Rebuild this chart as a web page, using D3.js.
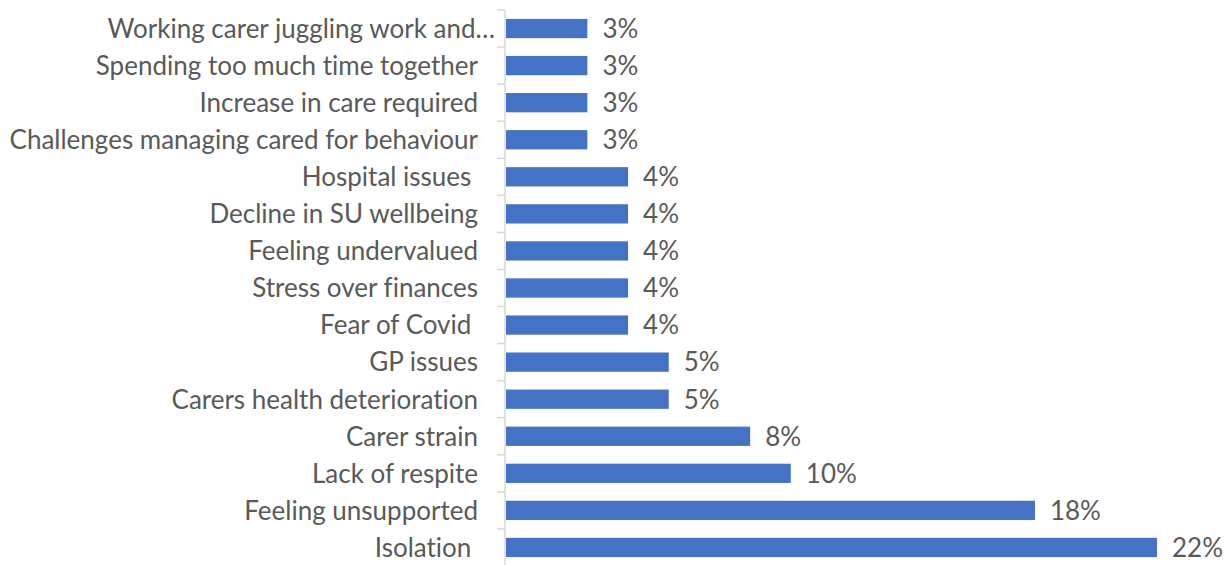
<!DOCTYPE html>
<html>
<head>
<meta charset="utf-8">
<script src="https://cdn.jsdelivr.net/npm/d3@7"></script>
<style>
  body { margin: 0; background: #fff; }
  text { font-family: Lato, "Open Sans", sans-serif; fill: #595959; white-space: pre; font-variant-ligatures: none; }
</style>
</head>
<body>
<div id="chart"></div>
<script>
// categories top to bottom, as in the chart
const categories = [
  "Working carer juggling work and…",
  "Spending too much time together",
  "Increase in care required",
  "Challenges managing cared for behaviour",
  "Hospital issues ",
  "Decline in SU wellbeing",
  "Feeling undervalued",
  "Stress over finances",
  "Fear of Covid ",
  "GP issues",
  "Carers health deterioration",
  "Carer strain",
  "Lack of respite",
  "Feeling unsupported",
  "Isolation "
];
// share of responses (%)
const values = [2.74, 2.74, 2.74, 2.74, 4.11, 4.11, 4.11, 4.11, 4.11, 5.48, 5.48, 8.22, 9.59, 17.81, 21.92];

const W = 1231, H = 565;
const axisX = 505;

const data = categories.map((c, i) => ({ name: c, value: values[i] }));

const svg = d3.select("#chart").append("svg")
  .attr("width", W)
  .attr("height", H);

const x = d3.scaleLinear().domain([0, 24]).range([axisX, axisX + 24 * 29.7]);
const y = d3.scaleBand().domain(categories).range([10, 566]).paddingInner(0.48).paddingOuter(0.24);

// bars
svg.selectAll("rect.bar")
  .data(data)
  .enter().append("rect")
  .attr("class", "bar")
  .attr("x", x(0) + 1)
  .attr("y", d => y(d.name))
  .attr("width", d => x(d.value) - x(0))
  .attr("height", y.bandwidth())
  .attr("fill", "#4472C4");

// category axis: line + ticks at band boundaries
const step = y.step();
const bounds = d3.range(categories.length + 1).map(i => y.range()[0] + i * step);
svg.append("line")
  .attr("x1", axisX).attr("x2", axisX)
  .attr("y1", y.range()[0]).attr("y2", y.range()[1])
  .attr("stroke", "#D9D9D9").attr("stroke-width", 1.5);
svg.selectAll("line.tick")
  .data(bounds)
  .enter().append("line")
  .attr("class", "tick")
  .attr("x1", axisX - 8).attr("x2", axisX)
  .attr("y1", d => d).attr("y2", d => d)
  .attr("stroke", "#D9D9D9").attr("stroke-width", 1.5);

// category labels (the truncated first one overhangs a bit, like Excel does)
svg.selectAll("text.cat")
  .data(data)
  .enter().append("text")
  .attr("class", "cat")
  .attr("x", (d, i) => i === 0 ? axisX - 10 : axisX - 27)
  .attr("y", d => y(d.name) + y.bandwidth() / 2)
  .attr("dy", "0.36em")
  .attr("text-anchor", "end")
  .style("font-size", "26px")
  .text(d => d.name);

// value labels
const fmt = d3.format(".0%");
svg.selectAll("text.val")
  .data(data)
  .enter().append("text")
  .attr("class", "val")
  .attr("x", d => x(d.value) + 16)
  .attr("y", d => y(d.name) + y.bandwidth() / 2)
  .attr("dy", "0.36em")
  .style("font-size", "26px")
  .text(d => fmt(d.value / 100));
</script>
</body>
</html>
